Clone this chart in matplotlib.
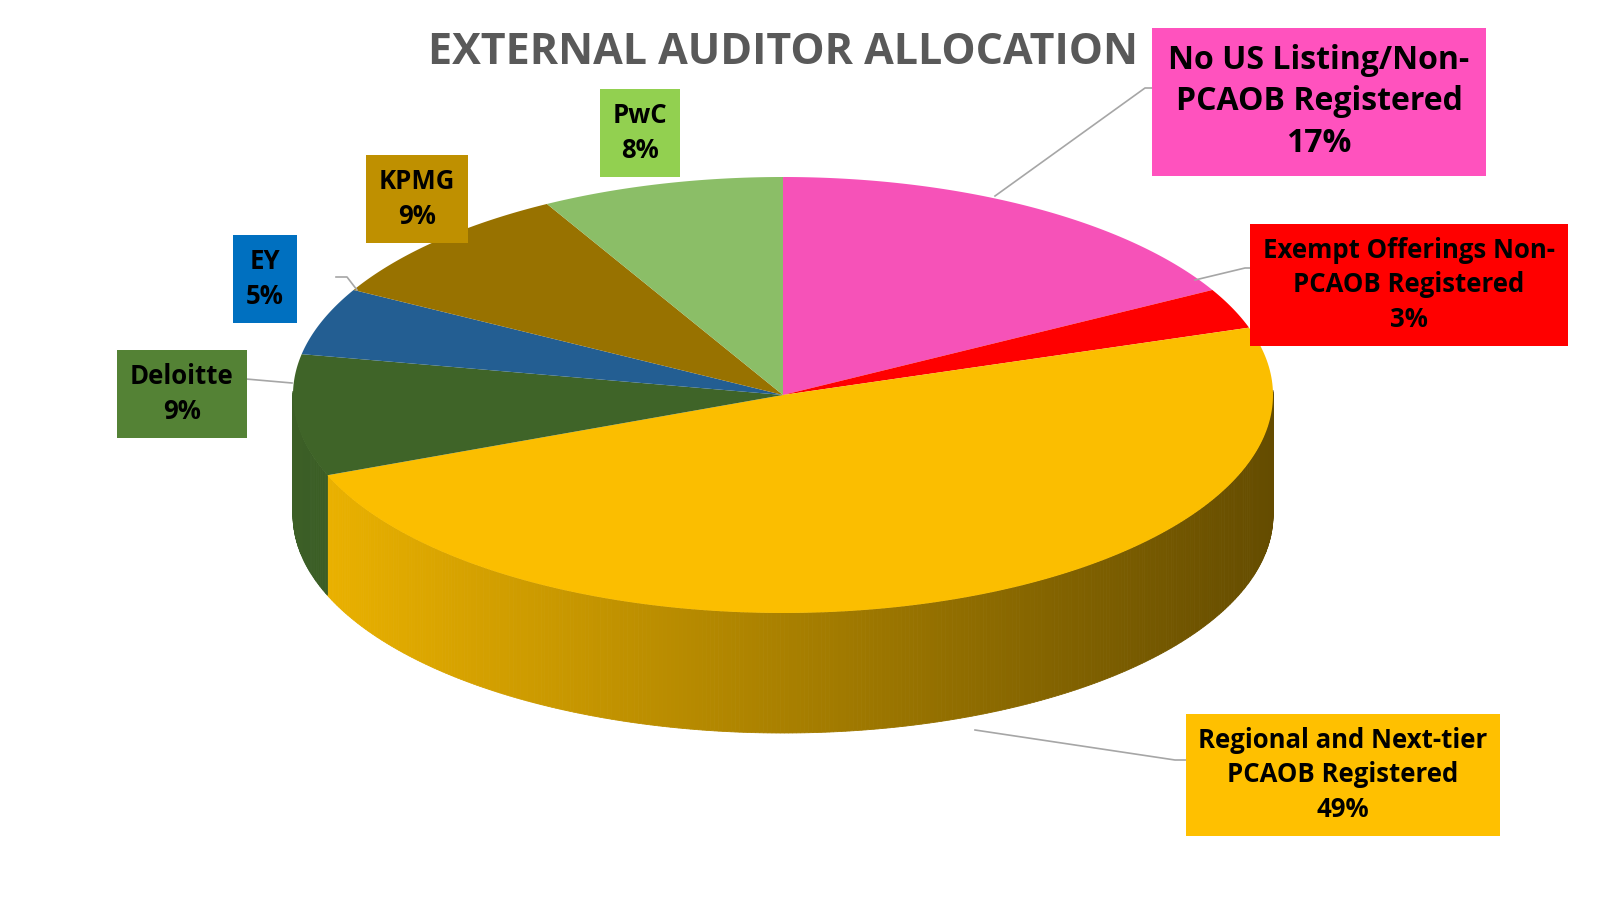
import numpy as np
import matplotlib.pyplot as plt
from matplotlib.patches import Polygon
from matplotlib.colors import to_rgb

labels = ['No US Listing/Non-\nPCAOB Registered', 'Exempt Offerings Non-\nPCAOB Registered',
          'Regional and Next-tier\nPCAOB Registered', 'Deloitte', 'EY', 'KPMG', 'PwC']
shares = [17, 3, 49, 9, 5, 9, 8]
face_colors = ['#F652B8', '#FF0000', '#FBBE00', '#3F6428', '#235E92', '#987200', '#8BBE67']
box_colors = ['#FF52BE', '#FF0000', '#FFC000', '#548235', '#0070C0', '#BF9000', '#92D050']

# label box centres (pixels) and font sizes
box_pos = [(1319, 102), (1409, 285), (1343, 775), (182, 394), (265, 279), (417, 199), (640, 133)]
box_fs = [23, 18.5, 18.5, 18.5, 18.5, 18.5, 18.5]

cx, cy, rx, ry, depth = 783, 395, 490, 218, 120

fig = plt.figure(figsize=(16.24, 8.98), dpi=100)
ax = fig.add_axes([0, 0, 1, 1])
ax.set_xlim(0, 1624)
ax.set_ylim(898, 0)
ax.axis('off')


def pt(a, d=0):
    return cx + rx * np.cos(a), cy - ry * np.sin(a) + d


def shade(c, f):
    return tuple(np.clip(np.array(to_rgb(c)) * f, 0, 1))


bounds = 90 - 3.6 * np.concatenate([[0], np.cumsum(shares)])
angles = np.deg2rad(bounds)

# side strips (front half only)
for i in range(len(shares)):
    a0, a1 = angles[i], angles[i + 1]
    ts = np.linspace(a0, a1, max(4, int(abs(a1 - a0) * 120)))
    for t0, t1 in zip(ts[:-1], ts[1:]):
        tm = (t0 + t1) / 2
        if np.sin(tm) >= 0.02:
            continue
        # lighter at left, darker to the right
        f = 0.95 - 0.55 * (np.cos(tm) + 1) / 2
        x0, y0 = pt(t0)
        x1, y1 = pt(t1)
        ax.add_patch(Polygon([(x0, y0), (x1, y1), (x1, y1 + depth), (x0, y0 + depth)],
                             closed=True, fc=shade(face_colors[i], f), ec=shade(face_colors[i], f),
                             lw=0.6))

# top faces
for i in range(len(shares)):
    ts = np.linspace(angles[i], angles[i + 1], 200)
    pts = [(cx, cy)] + [pt(t) for t in ts]
    ax.add_patch(Polygon(pts, closed=True, fc=face_colors[i], ec='none'))

# labels
for i in range(len(shares)):
    bx, by = box_pos[i]
    txt = f'{labels[i]}\n{shares[i]}%'
    ax.text(bx, by, txt, ha='center', va='center', fontsize=box_fs[i], fontweight='bold',
            family='Open Sans', color='black', linespacing=1.35,
            bbox=dict(boxstyle='square,pad=0.5', fc=box_colors[i], ec='none'))

# leader lines
leaders = {0: [(995, 196), (1145, 88), (1163, 88)],
           1: [(1195, 280), (1245, 268), (1256, 268)],
           2: [(975, 730), (1175, 760), (1190, 760)],
           3: [(292, 383), (246, 379)],
           4: [(357, 290), (347, 277), (336, 277)]}
for k, p in leaders.items():
    xs, ys = zip(*p)
    ax.plot(xs, ys, color='#A6A6A6', lw=1.2)

ax.text(783, 52, 'EXTERNAL AUDITOR ALLOCATION', ha='center', va='center', fontsize=31,
        fontweight='bold', family='Open Sans', color='#595959')

fig.savefig('out.png', dpi=100)
